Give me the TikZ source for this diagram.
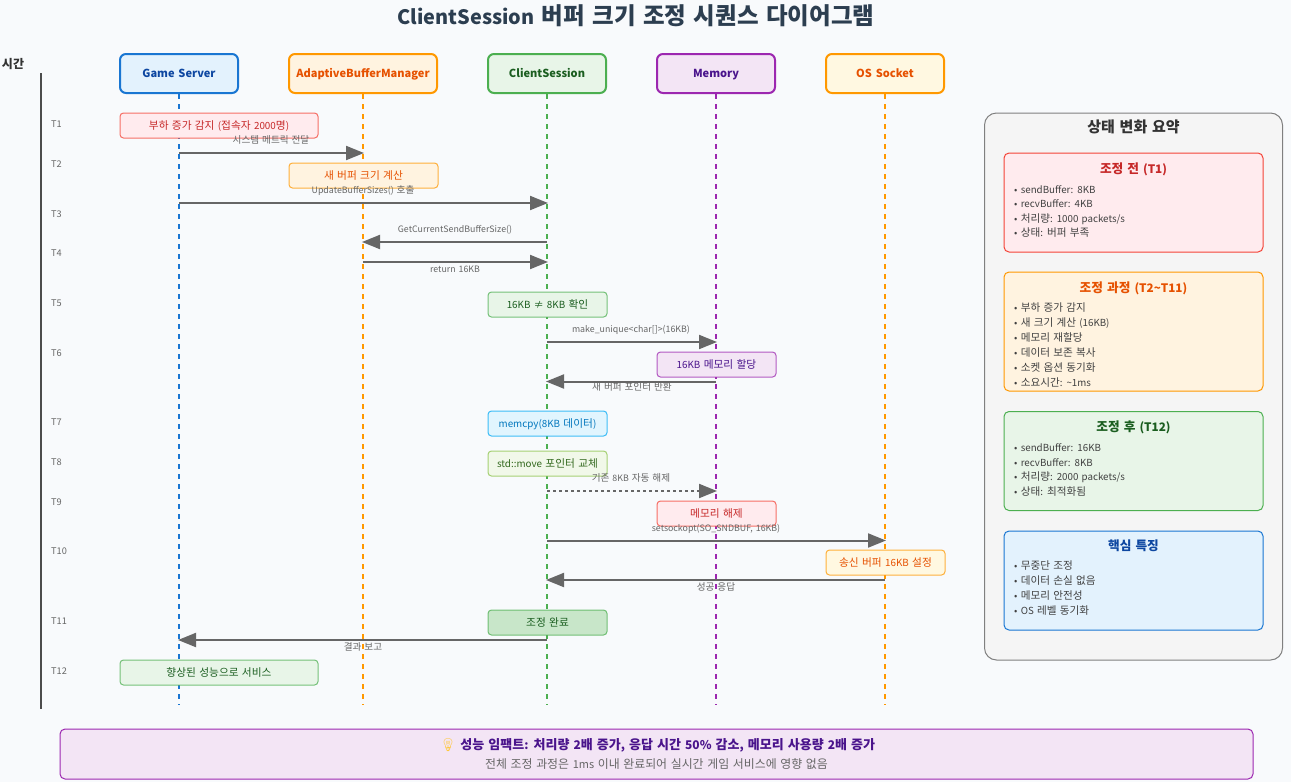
\documentclass[tikz,border=0pt]{standalone}
\usepackage{fontspec}
\setmainfont{Noto Sans CJK KR}[Scale=0.92,WordSpace=1.5]
\newfontfamily\hangulfam{Noto Sans CJK KR}[Scale=1.0,WordSpace=1.5]
\newfontfamily\emojifont{Noto Emoji}
\newXeTeXintercharclass\hangulcls
\newcount\hangulcnt
\hangulcnt="AC00
\loop
  \XeTeXcharclass\hangulcnt=\hangulcls
  \advance\hangulcnt by 1
\ifnum\hangulcnt<"D7A4 \repeat
\XeTeXinterchartoks 0 \hangulcls = {\hangulfam}
\XeTeXinterchartoks 4095 \hangulcls = {\hangulfam}
\XeTeXinterchartoks \hangulcls 0 = {\rmfamily}
\XeTeXinterchartoks \hangulcls 4095 = {\rmfamily}
\XeTeXinterchartokenstate=1
\usetikzlibrary{arrows.meta}
\definecolor{bgc}{HTML}{F8FAFC}
\definecolor{blueS}{HTML}{1976D2}\definecolor{blueF}{HTML}{E3F2FD}\definecolor{blueT}{HTML}{0D47A1}
\definecolor{oranS}{HTML}{F57C00}\definecolor{oranL}{HTML}{FF9800}\definecolor{oranF}{HTML}{FFF3E0}\definecolor{oranT}{HTML}{E65100}
\definecolor{greeS}{HTML}{4CAF50}\definecolor{greeF}{HTML}{E8F5E8}\definecolor{greeT}{HTML}{1B5E20}
\definecolor{purpS}{HTML}{9C27B0}\definecolor{purpF}{HTML}{F3E5F5}\definecolor{purpT}{HTML}{4A148C}
\definecolor{ambeS}{HTML}{FF9800}\definecolor{ambeF}{HTML}{FFF8E1}
\definecolor{redS}{HTML}{F44336}\definecolor{redF}{HTML}{FFEBEE}\definecolor{redT}{HTML}{C62828}
\definecolor{cyanS}{HTML}{03A9F4}\definecolor{cyanF}{HTML}{E1F5FE}\definecolor{cyanT}{HTML}{0277BD}
\definecolor{limeS}{HTML}{8BC34A}\definecolor{limeF}{HTML}{F1F8E9}\definecolor{limeT}{HTML}{33691E}
\definecolor{doneF}{HTML}{C8E6C9}
\definecolor{msgc}{HTML}{666666}
\definecolor{ttl}{HTML}{2C3E50}
\definecolor{bulb}{HTML}{FFC83D}
\tikzset{
  x=1pt,y=-1pt,
  actor/.style={draw=#1,line width=2pt,rounded corners=6pt,minimum width=118pt,minimum height=39pt,inner sep=0pt,text height=11.3pt,text depth=2.4pt,font=\fontsize{12}{14}\selectfont\bfseries},
  notebox/.style={draw=#1,draw opacity=.75,line width=1pt,rounded corners=3.5pt,minimum height=25pt,inner sep=0pt,text height=10pt,text depth=2.1pt,font=\fontsize{10.7}{12}\selectfont},
  narrowbox/.style={notebox=#1,minimum width=119pt},
  widebox/.style={notebox=#1,minimum width=198pt},
  life/.style={draw=#1,line width=2pt,dash pattern=on 5pt off 5pt},
  msg/.style={draw=msgc,line width=2pt,-{Triangle[length=18pt,width=14pt]},shorten >=-1pt},
  msgd/.style={msg,dash pattern=on 3pt off 3pt},
  msglabel/.style={text=msgc,font=\fontsize{9.6}{11}\selectfont,inner sep=0pt,text height=9pt,text depth=1.9pt},
  tlabel/.style={text=msgc,font=\fontsize{10}{11}\selectfont,anchor=west,inner sep=0pt,text height=9.4pt,text depth=2pt},
  sumbox/.style={draw=#1,line width=1pt,rounded corners=5pt,minimum width=259pt,inner sep=0pt},
  sumtitle/.style={font=\fontsize{12.7}{14}\selectfont\bfseries,inner sep=0pt,text height=12pt,text depth=2.5pt},
  sumitem/.style={text=black!75,font=\fontsize{10.6}{12}\selectfont,anchor=west,inner sep=0pt,text height=10pt,text depth=2.1pt},
}
\begin{document}
\begin{tikzpicture}
\useasboundingbox (0,0) rectangle (1291,782);
\fill[bgc] (0,0) rectangle (1291,782);
\node[text=ttl,font=\fontsize{23.5}{28}\selectfont\bfseries,inner sep=0pt,text height=22pt,text depth=4.7pt] (title) at (636,16) {{\fontsize{21.6}{28}\selectfont ClientSession} 버퍼 크기 조정 시퀀스 다이어그램};

% time axis
\node[text=black!80,font=\fontsize{12}{14}\selectfont\bfseries,inner sep=0pt,text height=11.3pt,text depth=2.4pt] (timelbl) at (13,64) {시간};
\coordinate (axT) at (40.5,73);
\coordinate (axB) at (40.5,709);
\draw[black!70,line width=2pt] (axT) -- (axB);
\node[tlabel] (t1) at (51,124) {T1};
\node[tlabel] (t2) at (51,164) {T2};
\node[tlabel] (t3) at (51,214) {T3};
\node[tlabel] (t4) at (51,253) {T4};
\node[tlabel] (t5) at (51,303) {T5};
\node[tlabel] (t6) at (51,353) {T6};
\node[tlabel] (t7) at (51,422) {T7};
\node[tlabel] (t8) at (51,462) {T8};
\node[tlabel] (t9) at (51,502) {T9};
\node[tlabel] (t10) at (51,551) {T10};
\node[tlabel] (t11) at (51,621) {T11};
\node[tlabel] (t12) at (51,671) {T12};

% actors
\node[actor=blueS,fill=blueF,text=blueT] (gs) at (179,73.5) {Game Server};
\node[actor=oranL,fill=oranF,text=oranT,minimum width=148pt] (abm) at (363,73.5) {AdaptiveBufferManager};
\node[actor=greeS,fill=greeF,text=greeT] (cs) at (547,73.5) {ClientSession};
\node[actor=purpS,fill=purpF,text=purpT] (mem) at (716,73.5) {Memory};
\node[actor=ambeS,fill=ambeF,text=oranT] (os) at (885,73.5) {OS Socket};

% lifelines
\coordinate (lifeEnd) at (0,705);
\draw[life=blueS] (gs.south) -- (gs|-lifeEnd);
\draw[life=oranL] (abm.south) -- (abm|-lifeEnd);
\draw[life=greeS] (cs.south) -- (cs|-lifeEnd);
\draw[life=purpS] (mem.south) -- (mem|-lifeEnd);
\draw[life=ambeS] (os.south) -- (os|-lifeEnd);

% notes
\node[widebox=redS,fill=redF,text=redT] (n1) at (219,125.5) {부하 증가 감지 (접속자 2000명)};
\node[notebox=oranL,fill=oranF,text=oranT,minimum width=149pt] (n2) at (363.5,175.5) {새 버퍼 크기 계산};
\node[narrowbox=greeS,fill=greeF,text=greeT] (n5) at (547.5,304.5) {16KB ≠ 8KB 확인};
\node[narrowbox=purpS,fill=purpF,text=purpT] (n6) at (716.5,364.5) {16KB 메모리 할당};
\node[narrowbox=cyanS,fill=cyanF,text=cyanT] (n7) at (547.5,423.5) {memcpy(8KB 데이터)};
\node[narrowbox=limeS,fill=limeF,text=limeT] (n8) at (547.5,463.5) {std::move 포인터 교체};
\node[narrowbox=redS,fill=redF,text=redT] (n9) at (716.5,513.5) {메모리 해제};
\node[narrowbox=ambeS,fill=ambeF,text=oranT] (n10) at (885.5,562.5) {송신 버퍼 16KB 설정};
\node[narrowbox=greeS,fill=doneF,text=greeT] (n11) at (547.5,622.5) {조정 완료};
\node[widebox=greeS,fill=greeF,text=greeT] (n12) at (219,672.5) {향상된 성능으로 서비스};

% message rows
\coordinate (r1) at (0,153);
\coordinate (r2) at (0,203);
\coordinate (r3) at (0,242);
\coordinate (r4) at (0,262);
\coordinate (r5) at (0,342);
\coordinate (r6) at (0,381.5);
\coordinate (r7) at (0,491);
\coordinate (r8) at (0,540.5);
\coordinate (r9) at (0,580);
\coordinate (r10) at (0,640);
\draw[msg] (gs|-r1) -- (abm|-r1);
\draw[msg] (gs|-r2) -- (cs|-r2);
\draw[msg] (cs|-r3) -- (abm|-r3);
\draw[msg] (abm|-r4) -- (cs|-r4);
\draw[msg] (cs|-r5) -- (mem|-r5);
\draw[msg] (mem|-r6) -- (cs|-r6);
\draw[msgd] (cs|-r7) -- (mem|-r7);
\draw[msg] (cs|-r8) -- (os|-r8);
\draw[msg] (os|-r9) -- (cs|-r9);
\draw[msg] (cs|-r10) -- (gs|-r10);

% message labels
\node[msglabel] (l1) at (271,140) {시스템 메트릭 전달};
\node[msglabel] (l2) at (363,190) {UpdateBufferSizes() 호출};
\node[msglabel] (l3) at (455,229) {GetCurrentSendBufferSize()};
\node[msglabel] (l4) at (455,269) {return 16KB};
\node[msglabel] (l5) at (631,329) {make\_unique<char[]>(16KB)};
\node[msglabel] (l6) at (632,387) {새 버퍼 포인터 반환};
\node[msglabel] (l7) at (631,478) {기존 8KB 자동 해제};
\node[msglabel] (l8) at (716,528) {setsockopt(SO\_SNDBUF, 16KB)};
\node[msglabel] (l9) at (716,587) {성공 응답};
\node[msglabel] (l10) at (363,647) {결과 보고};

% summary panel
\node[draw=black!50,fill=black!4,line width=1pt,rounded corners=12pt,minimum width=298pt,minimum height=547pt,inner sep=0pt] (panel) at (1133.5,386.5) {};
\node[text=black!80,font=\fontsize{15}{16}\selectfont\bfseries,inner sep=0pt,text height=14pt,text depth=3pt] (paneltitle) at (1133.5,127) {상태 변화 요약};

\node[sumbox=redS,fill=redF,minimum height=99pt] (sb1) at (1133.5,202.5) {};
\node[sumtitle,text=redT] (sb1t) at (1133.5,168.5) {조정 전 (T1)};
\node[sumitem] (i11) at (1014,189.5) {• sendBuffer: 8KB};
\node[sumitem] (i12) at (1014,204) {• recvBuffer: 4KB};
\node[sumitem] (i13) at (1014,219) {• 처리량: 1000 packets/s};
\node[sumitem] (i14) at (1014,233) {• 상태: 버퍼 부족};

\node[sumbox=ambeS,fill=oranF,minimum height=119pt] (sb2) at (1133.5,331.5) {};
\node[sumtitle,text=oranT] (sb2t) at (1133.5,287.5) {조정 과정 (T2\textasciitilde T11)};
\node[sumitem] (i21) at (1014,308) {• 부하 증가 감지};
\node[sumitem] (i22) at (1014,323) {• 새 크기 계산 (16KB)};
\node[sumitem] (i23) at (1014,338) {• 메모리 재할당};
\node[sumitem] (i24) at (1014,353) {• 데이터 보존 복사};
\node[sumitem] (i25) at (1014,368) {• 소켓 옵션 동기화};
\node[sumitem] (i26) at (1014,383) {• 소요시간: \textasciitilde 1ms};

\node[sumbox=greeS,fill=greeF,minimum height=99pt] (sb3) at (1133.5,461) {};
\node[sumtitle,text=greeT] (sb3t) at (1133.5,426.5) {조정 후 (T12)};
\node[sumitem] (i31) at (1014,447.5) {• sendBuffer: 16KB};
\node[sumitem] (i32) at (1014,462.5) {• recvBuffer: 8KB};
\node[sumitem] (i33) at (1014,477) {• 처리량: 2000 packets/s};
\node[sumitem] (i34) at (1014,492) {• 상태: 최적화됨};

\node[sumbox=blueS,fill=blueF,minimum height=99pt] (sb4) at (1133.5,580.5) {};
\node[sumtitle,text=blueT] (sb4t) at (1133.5,545.5) {핵심 특징};
\node[sumitem] (i41) at (1014,566) {• 무중단 조정};
\node[sumitem] (i42) at (1014,581) {• 데이터 손실 없음};
\node[sumitem] (i43) at (1014,596) {• 메모리 안전성};
\node[sumitem] (i44) at (1014,611) {• OS 레벨 동기화};

% bottom banner
\node[draw=purpS,fill=purpF,line width=1pt,rounded corners=5pt,minimum width=1193pt,minimum height=50pt,inner sep=0pt] (banner) at (656.5,754) {};
\node[text=purpT,font=\fontsize{13}{14}\selectfont\bfseries,inner sep=0pt,text height=12.2pt,text depth=2.6pt] (bannerT) at (657.5,744.5) {{\emojifont\color{bulb}\symbol{"1F4A1}}\ 성능 임팩트: 처리량 2배 증가, 응답 시간 50\% 감소, 메모리 사용량 2배 증가};
\node[text=msgc,font=\fontsize{11.9}{12}\selectfont,inner sep=0pt,text height=11.2pt,text depth=2.4pt] (bannerS) at (656.5,764.5) {전체 조정 과정은 1ms 이내 완료되어 실시간 게임 서비스에 영향 없음};
\end{tikzpicture}
\end{document}
